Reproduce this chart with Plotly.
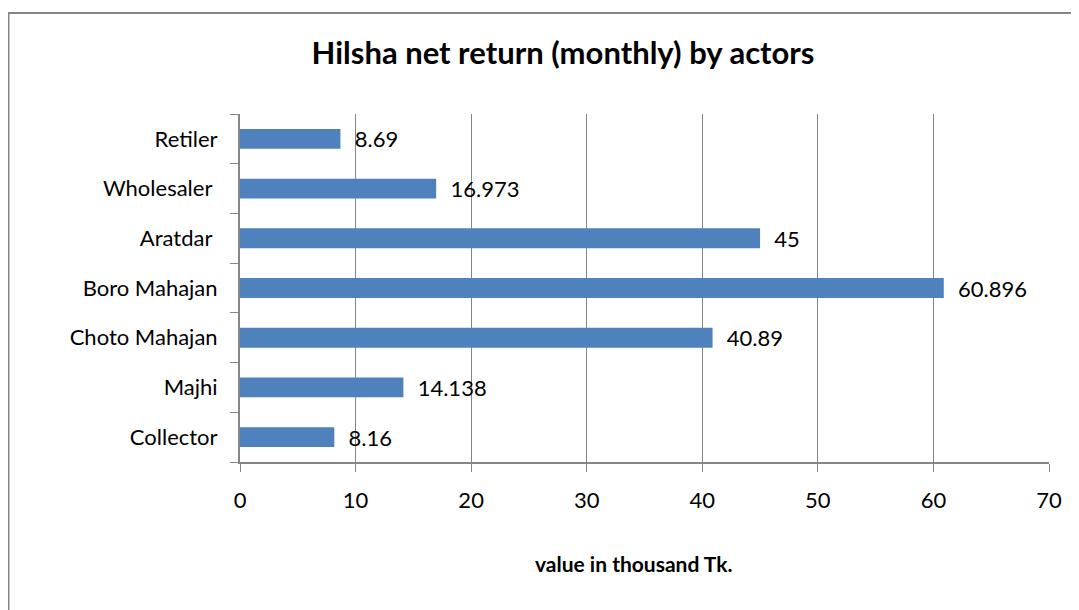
import plotly.graph_objects as go

# Dados do gráfico (de baixo para cima)
atores = ["Collector", "Majhi", "Choto Mahajan", "Boro Mahajan",
          "Aratdar\u00a0", "Wholesaler\u00a0", "Retiler"]
valores = [8.16, 14.138, 40.89, 60.896, 45, 16.973, 8.69]
rotulos = ["8.16", "14.138", "40.89", "60.896", "45", "16.973", "8.69"]
ticks_x = [0, 10, 20, 30, 40, 50, 60, 70]

fonte = "Lato, 'Open Sans', sans-serif"
cinza = "#868686"

# a página tem 8px de margem no body
W, H = 1071, 602
ML, MR, MT, MB = 232, 30, 106, 148
PW, PH = W - ML - MR, H - MT - MB

fig = go.Figure()
fig.add_trace(go.Bar(
    y=atores,
    x=valores,
    orientation="h",
    marker=dict(color="#4F81BD", line=dict(color="#4F81BD", width=0)),
    text=["\u00a0\u00a0" + r for r in rotulos],
    textposition="outside",
    constraintext="none",
    textfont=dict(family=fonte, size=22, color="black"),
    cliponaxis=False,
))

fig.update_layout(
    width=W,
    height=H,
    paper_bgcolor="white",
    plot_bgcolor="white",
    margin=dict(l=ML, r=MR, t=MT, b=MB),
    showlegend=False,
    bargap=0.6,
    title=dict(
        text="<b>Hilsha net return (monthly) by actors</b>",
        font=dict(family=fonte, size=31, color="black"),
        x=555 / W, xanchor="center",
        y=1 - 45 / H, yanchor="middle", yref="container",
    ),
    xaxis=dict(
        range=[0, 70],
        tickvals=ticks_x,
        showgrid=True, gridcolor=cinza, gridwidth=1,
        showline=True, linecolor=cinza, linewidth=2,
        ticks="outside", ticklen=8, tickcolor=cinza,
        ticklabelstandoff=10,
        tickfont=dict(family=fonte, size=22, color="black"),
        zeroline=False,
    ),
    yaxis=dict(
        type="category",
        tickson="boundaries",
        showgrid=False,
        showline=True, linecolor=cinza, linewidth=2,
        ticks="outside", ticklen=8, tickcolor=cinza,
        ticklabelstandoff=16,
        tickfont=dict(family=fonte, size=22, color="black"),
    ),
)

# título do eixo x
fig.add_annotation(
    text="<b>value in thousand Tk.</b>",
    xref="paper", yref="paper",
    x=(625 - ML) / PW, y=-(555 - (H - MB)) / PH,
    xanchor="center", yanchor="middle",
    showarrow=False,
    font=dict(family=fonte, size=21, color="black"),
)

# borda externa do gráfico
fig.add_shape(
    type="rect", xref="paper", yref="paper",
    x0=-(ML - 0.5) / PW, x1=1.2,
    y0=-0.6, y1=1 + (MT - 5) / PH,
    line=dict(color=cinza, width=2),
    layer="below",
)

fig.write_html("out.html")
